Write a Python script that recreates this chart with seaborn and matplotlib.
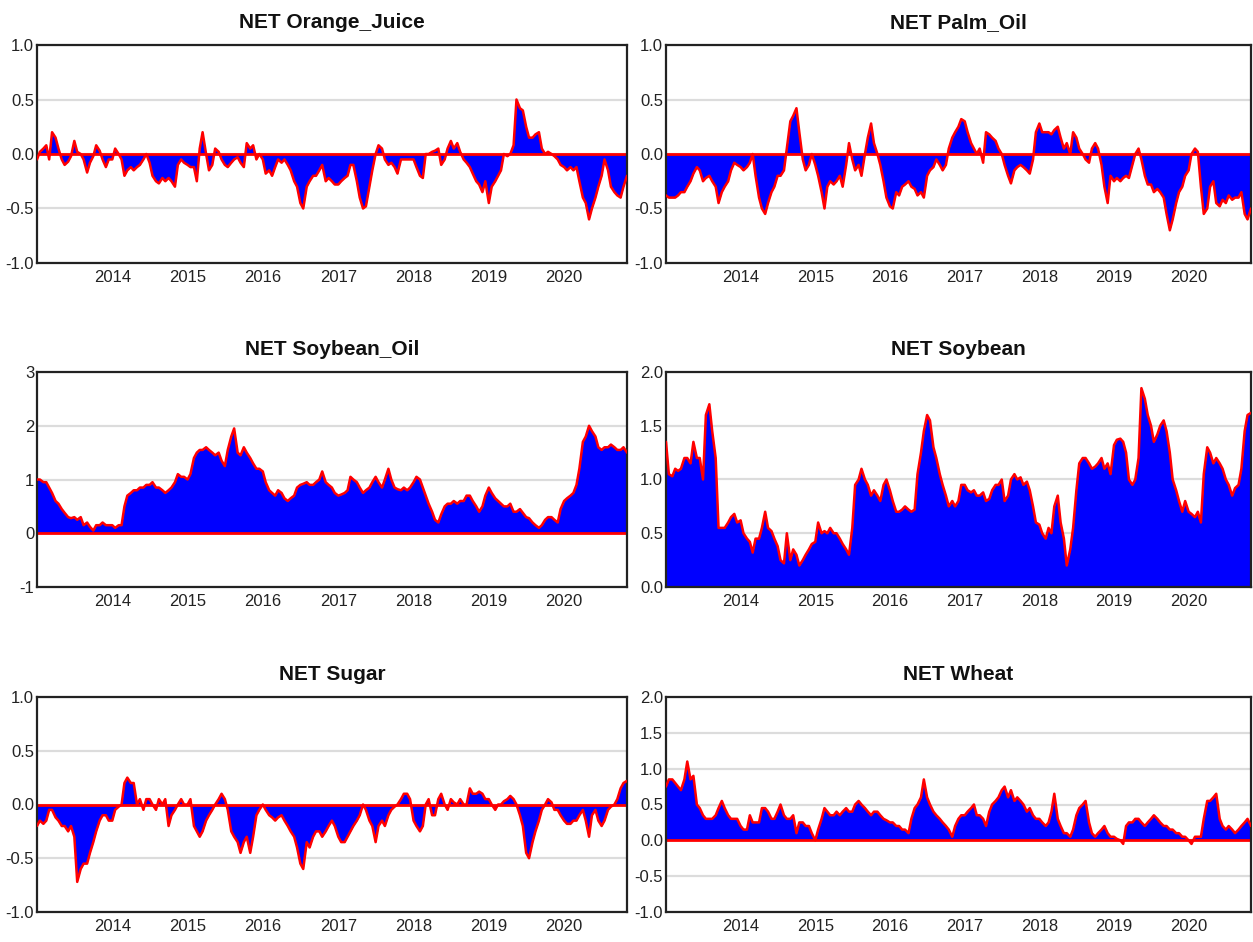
import pandas as pd
import numpy as np
import matplotlib
matplotlib.use("Agg")
import matplotlib.pyplot as plt
import seaborn as sns

# semi-monthly readings (1st and 15th), Jan 2013 .. Nov 2020
dates = pd.date_range("2013-01-01", "2020-11-01", freq="SMS")

orange_juice = [
    -0.05, 0.02, 0.05, 0.08, -0.05, 0.2, 0.15, 0.05, -0.05, -0.1, -0.07, -0.02,
    0.12, 0.02, 0.0, -0.05, -0.17, -0.08, -0.02, 0.08, 0.03, -0.05, -0.12, -0.05,
    -0.05, 0.05, 0.0, -0.05, -0.2, -0.15, -0.12, -0.15, -0.12, -0.1, -0.05, 0.0,
    -0.08, -0.2, -0.25, -0.27, -0.22, -0.25, -0.22, -0.25, -0.3, -0.1, -0.05, -0.08,
    -0.1, -0.12, -0.12, -0.25, 0.05, 0.2, 0.0, -0.15, -0.1, 0.05, 0.02, -0.05,
    -0.1, -0.12, -0.08, -0.05, -0.03, -0.08, -0.12, 0.1, 0.05, 0.08, -0.05, 0.0,
    -0.05, -0.18, -0.15, -0.2, -0.12, -0.05, -0.08, -0.05, -0.1, -0.15, -0.25, -0.3,
    -0.45, -0.5, -0.3, -0.25, -0.2, -0.2, -0.15, -0.1, -0.25, -0.22, -0.25, -0.28,
    -0.28, -0.25, -0.22, -0.2, -0.1, -0.1, -0.25, -0.4, -0.5, -0.48, -0.3, -0.15,
    0.0, 0.08, 0.05, -0.05, -0.1, -0.08, -0.12, -0.18, -0.05, -0.05, -0.05, -0.05,
    -0.05, -0.12, -0.2, -0.22, 0.0, 0.0, 0.02, 0.03, 0.05, -0.1, -0.05, 0.05,
    0.12, 0.05, 0.1, 0.02, -0.05, -0.08, -0.12, -0.18, -0.25, -0.28, -0.35, -0.25,
    -0.45, -0.3, -0.25, -0.2, -0.15, 0.0, -0.02, 0.0, 0.08, 0.5, 0.42, 0.4,
    0.25, 0.15, 0.15, 0.18, 0.2, 0.05, 0.0, 0.02, 0.0, -0.02, -0.05, -0.1,
    -0.12, -0.15, -0.12, -0.15, -0.12, -0.25, -0.4, -0.45, -0.6, -0.5, -0.4, -0.3,
    -0.2, -0.05, -0.15, -0.3, -0.35, -0.38, -0.4, -0.3, -0.2,
]
palm_oil = [
    -0.38, -0.4, -0.4, -0.4, -0.38, -0.35, -0.35, -0.3, -0.25, -0.18, -0.12, -0.15,
    -0.25, -0.22, -0.2, -0.25, -0.3, -0.45, -0.35, -0.3, -0.25, -0.15, -0.08, -0.1,
    -0.12, -0.15, -0.12, -0.08, 0.0, -0.2, -0.4, -0.5, -0.55, -0.45, -0.35, -0.3,
    -0.2, -0.2, -0.15, 0.05, 0.3, 0.35, 0.42, 0.2, -0.05, -0.15, -0.1, 0.0,
    -0.1, -0.2, -0.35, -0.5, -0.3, -0.25, -0.28, -0.25, -0.2, -0.3, -0.1, 0.1,
    -0.05, -0.15, -0.1, -0.2, 0.0, 0.15, 0.28, 0.1, 0.0, -0.1, -0.25, -0.4,
    -0.48, -0.5, -0.35, -0.38, -0.3, -0.28, -0.25, -0.3, -0.32, -0.38, -0.35, -0.4,
    -0.2, -0.15, -0.12, -0.05, -0.1, -0.15, -0.1, 0.05, 0.15, 0.2, 0.25, 0.32,
    0.3, 0.2, 0.1, 0.05, 0.0, 0.05, -0.08, 0.2, 0.18, 0.15, 0.12, 0.05,
    0.0, -0.1, -0.2, -0.27, -0.15, -0.12, -0.1, -0.12, -0.15, -0.18, -0.05, 0.2,
    0.28, 0.2, 0.2, 0.2, 0.18, 0.22, 0.25, 0.15, 0.05, 0.1, 0.0, 0.2,
    0.15, 0.05, 0.0, -0.05, -0.08, 0.05, 0.1, 0.05, -0.1, -0.3, -0.45, -0.2,
    -0.25, -0.22, -0.25, -0.22, -0.2, -0.22, -0.1, 0.0, 0.05, -0.05, -0.2, -0.28,
    -0.28, -0.35, -0.32, -0.35, -0.4, -0.55, -0.7, -0.6, -0.45, -0.35, -0.3, -0.2,
    -0.15, 0.0, 0.05, 0.02, -0.3, -0.55, -0.5, -0.3, -0.25, -0.45, -0.48, -0.42,
    -0.45, -0.38, -0.42, -0.4, -0.4, -0.35, -0.55, -0.6, -0.5,
]
soybean_oil = [
    1.0, 1.0, 0.95, 0.95, 0.85, 0.75, 0.6, 0.55, 0.45, 0.38, 0.3, 0.28,
    0.3, 0.25, 0.3, 0.15, 0.2, 0.12, 0.05, 0.15, 0.15, 0.2, 0.15, 0.15,
    0.15, 0.1, 0.15, 0.15, 0.5, 0.7, 0.75, 0.8, 0.8, 0.85, 0.85, 0.9,
    0.9, 0.95, 0.85, 0.85, 0.8, 0.75, 0.8, 0.85, 0.95, 1.1, 1.05, 1.05,
    1.0, 1.1, 1.4, 1.5, 1.55, 1.55, 1.6, 1.55, 1.5, 1.45, 1.5, 1.35,
    1.25, 1.55, 1.8, 1.95, 1.5, 1.45, 1.6, 1.5, 1.4, 1.3, 1.2, 1.2,
    1.15, 0.95, 0.8, 0.75, 0.7, 0.8, 0.75, 0.65, 0.6, 0.65, 0.7, 0.85,
    0.9, 0.92, 0.95, 0.9, 0.9, 0.95, 1.0, 1.15, 0.95, 0.9, 0.85, 0.75,
    0.7, 0.72, 0.75, 0.8, 1.05, 1.0, 0.95, 0.85, 0.75, 0.8, 0.85, 0.95,
    1.05, 0.95, 0.85, 1.0, 1.2, 1.0, 0.85, 0.82, 0.8, 0.85, 0.8, 0.85,
    0.95, 1.05, 1.0, 0.85, 0.7, 0.55, 0.4, 0.25, 0.2, 0.35, 0.5, 0.55,
    0.55, 0.6, 0.55, 0.6, 0.6, 0.7, 0.7, 0.6, 0.5, 0.4, 0.5, 0.7,
    0.85, 0.75, 0.65, 0.6, 0.55, 0.5, 0.5, 0.55, 0.4, 0.4, 0.45, 0.38,
    0.3, 0.28, 0.2, 0.15, 0.1, 0.15, 0.25, 0.3, 0.3, 0.25, 0.2, 0.45,
    0.6, 0.65, 0.7, 0.75, 0.9, 1.2, 1.7, 1.8, 2.0, 1.9, 1.8, 1.6,
    1.55, 1.6, 1.6, 1.65, 1.6, 1.55, 1.55, 1.6, 1.5,
]
soybean = [
    1.35, 1.05, 1.03, 1.1, 1.08, 1.1, 1.2, 1.2, 1.15, 1.35, 1.2, 1.2,
    1.0, 1.6, 1.7, 1.45, 1.2, 0.55, 0.55, 0.55, 0.6, 0.65, 0.68, 0.6,
    0.62, 0.5, 0.45, 0.42, 0.32, 0.45, 0.45, 0.55, 0.7, 0.55, 0.52, 0.45,
    0.38, 0.25, 0.22, 0.5, 0.25, 0.35, 0.3, 0.2, 0.25, 0.3, 0.35, 0.4,
    0.42, 0.6, 0.5, 0.52, 0.5, 0.55, 0.5, 0.5, 0.45, 0.4, 0.35, 0.3,
    0.55, 0.95, 1.0, 1.1, 1.0, 0.95, 0.85, 0.9, 0.85, 0.8, 0.95, 1.0,
    0.9, 0.8, 0.7, 0.7, 0.72, 0.75, 0.72, 0.7, 0.72, 1.05, 1.25, 1.45,
    1.6, 1.55, 1.3, 1.2, 1.05, 0.95, 0.85, 0.75, 0.8, 0.75, 0.8, 0.95,
    0.95, 0.9, 0.88, 0.9, 0.85, 0.85, 0.88, 0.8, 0.82, 0.9, 0.95, 0.95,
    1.0, 0.8, 0.85, 1.0, 1.05, 1.0, 1.02, 0.95, 0.98, 0.9, 0.75, 0.6,
    0.58, 0.5, 0.45, 0.55, 0.5, 0.75, 0.85, 0.6, 0.45, 0.2, 0.35, 0.55,
    0.9, 1.15, 1.2, 1.2, 1.15, 1.1, 1.12, 1.15, 1.2, 1.1, 1.15, 1.05,
    1.32, 1.37, 1.38, 1.35, 1.25, 1.0, 0.95, 1.0, 1.2, 1.85, 1.75, 1.6,
    1.5, 1.35, 1.42, 1.5, 1.55, 1.45, 1.25, 1.0, 0.9, 0.8, 0.7, 0.8,
    0.7, 0.68, 0.65, 0.7, 0.6, 1.05, 1.3, 1.25, 1.15, 1.2, 1.15, 1.1,
    1.0, 0.95, 0.85, 0.92, 0.95, 1.1, 1.45, 1.6, 1.62,
]
sugar = [
    -0.2, -0.15, -0.18, -0.15, -0.05, -0.05, -0.12, -0.15, -0.2, -0.2, -0.25, -0.2,
    -0.3, -0.72, -0.6, -0.55, -0.55, -0.45, -0.35, -0.25, -0.15, -0.1, -0.1, -0.15,
    -0.15, -0.05, -0.02, 0.0, 0.2, 0.25, 0.2, 0.2, 0.0, 0.05, -0.05, 0.05,
    0.05, 0.0, -0.05, 0.05, 0.0, 0.05, -0.2, -0.1, -0.05, 0.0, 0.05, 0.0,
    0.0, 0.05, -0.2, -0.25, -0.3, -0.25, -0.15, -0.1, -0.05, 0.0, 0.05, 0.1,
    0.05, -0.05, -0.25, -0.3, -0.35, -0.45, -0.35, -0.3, -0.45, -0.3, -0.1, -0.05,
    0.0, -0.05, -0.1, -0.12, -0.15, -0.12, -0.1, -0.15, -0.2, -0.25, -0.3, -0.4,
    -0.55, -0.6, -0.35, -0.4, -0.3, -0.25, -0.25, -0.3, -0.25, -0.2, -0.15, -0.2,
    -0.3, -0.35, -0.35, -0.3, -0.25, -0.2, -0.15, -0.1, 0.0, -0.05, -0.15, -0.2,
    -0.35, -0.2, -0.15, -0.2, -0.1, -0.05, -0.02, 0.0, 0.05, 0.1, 0.1, 0.05,
    -0.15, -0.2, -0.25, -0.2, 0.0, 0.05, -0.1, -0.1, 0.05, 0.1, 0.0, -0.05,
    0.05, 0.02, 0.0, 0.05, 0.0, 0.0, 0.15, 0.1, 0.1, 0.12, 0.1, 0.05,
    0.05, 0.0, -0.05, 0.0, 0.0, 0.03, 0.05, 0.08, 0.05, 0.0, -0.1, -0.2,
    -0.45, -0.5, -0.35, -0.25, -0.15, -0.05, 0.0, 0.05, 0.02, -0.05, -0.05, -0.1,
    -0.15, -0.18, -0.18, -0.15, -0.15, -0.1, -0.05, -0.15, -0.3, -0.1, -0.05, -0.15,
    -0.2, -0.15, -0.05, -0.02, 0.0, 0.05, 0.15, 0.2, 0.22,
]
wheat = [
    0.75, 0.85, 0.85, 0.8, 0.75, 0.7, 0.85, 1.1, 0.85, 0.9, 0.5, 0.45,
    0.35, 0.3, 0.3, 0.3, 0.35, 0.45, 0.55, 0.45, 0.35, 0.3, 0.3, 0.3,
    0.2, 0.15, 0.15, 0.35, 0.25, 0.25, 0.25, 0.45, 0.45, 0.4, 0.3, 0.3,
    0.4, 0.5, 0.35, 0.3, 0.3, 0.35, 0.1, 0.25, 0.25, 0.2, 0.2, 0.1,
    0.0, 0.15, 0.3, 0.45, 0.4, 0.35, 0.35, 0.4, 0.35, 0.4, 0.45, 0.4,
    0.4, 0.5, 0.55, 0.5, 0.45, 0.4, 0.35, 0.4, 0.4, 0.35, 0.3, 0.28,
    0.25, 0.25, 0.2, 0.2, 0.15, 0.15, 0.1, 0.3, 0.45, 0.5, 0.6, 0.85,
    0.6, 0.5, 0.4, 0.35, 0.3, 0.25, 0.2, 0.15, 0.05, 0.2, 0.3, 0.35,
    0.35, 0.4, 0.45, 0.5, 0.35, 0.35, 0.3, 0.2, 0.4, 0.5, 0.55, 0.6,
    0.7, 0.75, 0.6, 0.7, 0.55, 0.6, 0.55, 0.5, 0.4, 0.45, 0.35, 0.3,
    0.3, 0.25, 0.2, 0.25, 0.4, 0.65, 0.3, 0.2, 0.1, 0.1, 0.05, 0.15,
    0.35, 0.45, 0.5, 0.55, 0.25, 0.1, 0.05, 0.1, 0.15, 0.2, 0.1, 0.05,
    0.05, 0.02, 0.0, -0.05, 0.2, 0.25, 0.25, 0.3, 0.3, 0.25, 0.2, 0.25,
    0.3, 0.35, 0.3, 0.25, 0.2, 0.2, 0.15, 0.15, 0.1, 0.1, 0.05, 0.05,
    0.0, -0.05, 0.05, 0.05, 0.05, 0.3, 0.55, 0.55, 0.6, 0.65, 0.3, 0.2,
    0.15, 0.2, 0.15, 0.1, 0.15, 0.2, 0.25, 0.3, 0.2,
]

titles = ["NET Orange_Juice", "NET Palm_Oil", "NET Soybean_Oil",
          "NET Soybean", "NET Sugar", "NET Wheat"]
series = [orange_juice, palm_oil, soybean_oil, soybean, sugar, wheat]
yticks = [
    [-1.0, -0.5, 0.0, 0.5, 1.0],
    [-1.0, -0.5, 0.0, 0.5, 1.0],
    [-1, 0, 1, 2, 3],
    [0.0, 0.5, 1.0, 1.5, 2.0],
    [-1.0, -0.5, 0.0, 0.5, 1.0],
    [-1.0, -0.5, 0.0, 0.5, 1.0, 1.5, 2.0],
]
ylabels = [
    ["-1.0", "-0.5", "0.0", "0.5", "1.0"],
    ["-1.0", "-0.5", "0.0", "0.5", "1.0"],
    ["-1", "0", "1", "2", "3"],
    ["0.0", "0.5", "1.0", "1.5", "2.0"],
    ["-1.0", "-0.5", "0.0", "0.5", "1.0"],
    ["-1.0", "-0.5", "0.0", "0.5", "1.0", "1.5", "2.0"],
]
years = list(range(2014, 2021))

sns.set_style("white")
plt.rcParams["font.family"] = ["Liberation Sans Narrow", "Liberation Sans", "DejaVu Sans"]
plt.rcParams["axes.unicode_minus"] = False

fig = plt.figure(figsize=(12.53, 9.42), dpi=100)

# axes boxes in pixels (left, right, top, bottom)
cols = [(37, 627), (666, 1251)]
rows = [(45, 263), (372, 587), (697, 912)]

for i, (title, vals) in enumerate(zip(titles, series)):
    r, c = divmod(i, 2)
    x0, x1 = cols[c]
    t, b = rows[r]
    ax = fig.add_axes([x0 / 1253, 1 - b / 942, (x1 - x0) / 1253, (b - t) / 942])

    df = pd.DataFrame({"date": dates, "value": vals})
    for yv in yticks[i]:
        ax.axhline(yv, color="#dcdcdc", lw=1.6, zorder=0)
    ax.fill_between(df["date"], df["value"], 0, color="blue", lw=0, zorder=1)
    sns.lineplot(data=df, x="date", y="value", color="red", lw=1.8, ax=ax, zorder=3)
    ax.axhline(0, color="red", lw=2, zorder=2)

    ax.set_xlim(dates[0], dates[-1])
    ax.set_ylim(yticks[i][0], yticks[i][-1])
    ax.set_yticks(yticks[i])
    ax.set_yticklabels(ylabels[i])
    ax.set_xticks([pd.Timestamp(f"{y}-01-01") for y in years])
    ax.set_xticklabels([str(y) for y in years])
    ax.set_xlabel("")
    ax.set_ylabel("")
    ax.tick_params(axis="x", direction="in", length=4, width=1, color="#333333",
                   labelsize=12, labelcolor="#222222", pad=5)
    ax.tick_params(axis="y", length=0, labelsize=12, labelcolor="#222222", pad=2)
    for s in ax.spines.values():
        s.set_color("#222222")
        s.set_linewidth(1.6)
    ax.set_title(title, fontsize=15, fontweight="bold", color="#111111", pad=12)

plt.savefig("out.png", dpi=100)
plt.close()
